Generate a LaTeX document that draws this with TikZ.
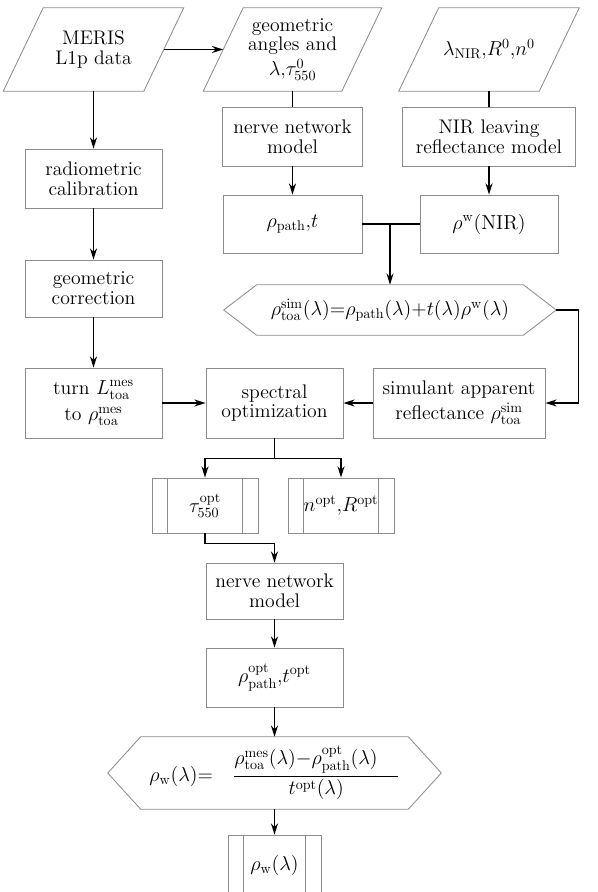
\documentclass[tikz,border=0pt]{standalone}
\usepackage{tikz}
\usetikzlibrary{calc}
\usetikzlibrary{arrows.meta}
\usepackage{amsmath}
\newcommand{\pxu}{0.025cm} % one pixel of the sketch
\tikzset{
	txt/.style={font=\fontsize{14}{14}\selectfont, align=center, inner sep=0pt},
	boxline/.style={draw=black!45, line width=0.6pt},
	procbox/.style={txt, boxline, rectangle},
	iobody/.style={txt, minimum height=83*\pxu},
	hexbody/.style={txt},
	link/.style={line width=1.1pt},
	flow/.style={->, line width=1.1pt}
}
\newcommand{\dataio}[5] % name, x, y, width, text
{
	% body of the data block
	\node[iobody, minimum width=#4*\pxu] (#1) at (#2,#3) {#5};
	% slanted outline
	\draw[boxline] ($(#1.north west)+(20,0)$) -- ($(#1.north east)+(20,0)$) -- ($(#1.south east)+(-20,0)$) -- ($(#1.south west)+(-20,0)$) -- cycle;
}
\newcommand{\hexbox}[6] % name, x, y, width, height, text
{
	\node[hexbody, minimum width=#4*\pxu, minimum height=#5*\pxu] (#1) at (#2,#3) {#6};
	\coordinate (#1 left) at ($(#1.west)+(-33,0)$);
	\coordinate (#1 right) at ($(#1.east)+(33,0)$);
	\draw[boxline] (#1.north west) -- (#1.north east) -- (#1 right) -- (#1.south east) -- (#1.south west) -- (#1 left) -- cycle;
}
\newcommand{\subproc}[6] % name, x, y, width, height, text
{
	\node[procbox, minimum width=#4*\pxu, minimum height=#5*\pxu] (#1) at (#2,#3) {#6};
	% side bars
	\draw[boxline] ($(#1.north west)+(16,0)$) -- ($(#1.south west)+(16,0)$);
	\draw[boxline] ($(#1.north east)+(-16,0)$) -- ($(#1.south east)+(-16,0)$);
}

\begin{document}
\begin{tikzpicture}[x=0.025cm, y=-0.025cm, >={Stealth[length=8pt,width=5pt]}]
	% page: 597 x 892 px
	\useasboundingbox (0,0) rectangle (597,892);
	\clip (0,0) rectangle (597,892);
	
	% inputs
	\dataio{meris}{93.5}{49.5}{140}{MERIS\\L1p data}
	\dataio{geo}{292.5}{49.5}{138}{geometric\\angles and\\[2pt]$\lambda{,}\tau^{0}_{550}$}
	\dataio{nirin}{489}{49.5}{140}{$\lambda_{\mathrm{NIR}}{,}R^{0}{,}n^{0}$}
	
	% left column
	\node[procbox, minimum width=137*\pxu, minimum height=59*\pxu] (rad) at (93.5,178.5) {radiometric\\calibration};
	\node[procbox, minimum width=137*\pxu, minimum height=57*\pxu] (geocorr) at (93.5,288.5) {geometric\\correction};
	\node[procbox, minimum width=137*\pxu, minimum height=70*\pxu] (turn) at (93.5,403) {turn $L^{\mathrm{mes}}_{\mathrm{toa}}$\\[5pt]to $\rho^{\mathrm{mes}}_{\mathrm{toa}}$};
	
	% simulation branch
	\node[procbox, minimum width=140*\pxu, minimum height=59*\pxu] (nerve1) at (292.5,136.5) {nerve network\\model};
	\node[procbox, minimum width=173*\pxu, minimum height=59*\pxu] (nirbox) at (489,136.5) {NIR leaving\\reflectance model};
	\node[procbox, minimum width=139*\pxu, minimum height=58*\pxu] (rhopath) at (292.5,224) {$\rho_{\mathrm{path}}{,}t$};
	\node[procbox, minimum width=138*\pxu, minimum height=58*\pxu] (rhow) at (489,224) {$\rho^{\mathrm{w}}(\mathrm{NIR})$};
	\hexbox{hexsim}{390}{310}{266}{50}{$\rho^{\mathrm{sim}}_{\mathrm{toa}}(\lambda){=}\rho_{\mathrm{path}}(\lambda){+}t(\lambda)\rho^{\mathrm{w}}(\lambda)$}
	
	% optimization row
	\node[procbox, minimum width=137*\pxu, minimum height=70*\pxu] (spectral) at (274.5,403) {spectral\\optimization};
	\node[procbox, minimum width=172*\pxu, minimum height=70*\pxu] (simul) at (459,403) {simulant apparent\\[2pt]reflectance $\rho^{\mathrm{sim}}_{\mathrm{toa}}$};
	\subproc{tau}{205}{505.5}{106}{55}{$\tau^{\mathrm{opt}}_{550}$}
	\subproc{nR}{341}{505.5}{106}{55}{$n^{\mathrm{opt}}{,}R^{\mathrm{opt}}$}
	
	% retrieval column
	\node[procbox, minimum width=137*\pxu, minimum height=56*\pxu] (nerve2) at (274.5,591) {nerve network\\model};
	\node[procbox, minimum width=137*\pxu, minimum height=59*\pxu] (rhoopt) at (274.5,677.5) {$\rho^{\mathrm{opt}}_{\mathrm{path}}{,}t^{\mathrm{opt}}$};
	\hexbox{hexw}{274.5}{773}{267}{72}{$\rho_{\mathrm{w}}(\lambda){=}\quad\dfrac{\rho^{\mathrm{mes}}_{\mathrm{toa}}(\lambda){-}\rho^{\mathrm{opt}}_{\mathrm{path}}(\lambda)\mkern18mu}{t^{\mathrm{opt}}(\lambda)}$}
	\subproc{final}{274.5}{865}{93}{60}{$\rho_{\mathrm{w}}(\lambda)$}
	
	% connectors
	\draw[flow] (meris.east) -- (geo.west);
	\draw[flow] (meris.south) -- (rad.north);
	\draw[flow] (rad.south) -- (geocorr.north);
	\draw[flow] (geocorr.south) -- (turn.north);
	\draw[link] (geo.south) -- (nerve1.north);
	\draw[link] (nirin.south) -- (nirbox.north);
	\draw[flow] (nerve1.south) -- (rhopath.north);
	\draw[flow] (nirbox.south) -- (rhow.north);
	\draw[link] (rhopath.east) -- (rhow.west);
	\draw[flow] (rhopath.east -| hexsim.north) -- (hexsim.north);
	\draw[flow] (hexsim right) -- ++(22,0) |- (simul.east);
	\draw[flow] (simul.west) -- (spectral.east);
	\draw[flow] (turn.east) -- (spectral.west);
	
	\coordinate (split) at ($(spectral.south)+(0,20)$);
	\draw[link] (spectral.south) -- (split);
	\draw[flow] (split) -| (tau.north);
	\draw[flow] (split) -| (nR.north);
	\draw[flow] (tau.south) -- ++(0,10) -| (nerve2.north);
	\draw[flow] (nerve2.south) -- (rhoopt.north);
	\draw[flow] (rhoopt.south) -- (hexw.north);
	\draw[flow] (hexw.south) -- (final.north);
\end{tikzpicture}
\end{document}
